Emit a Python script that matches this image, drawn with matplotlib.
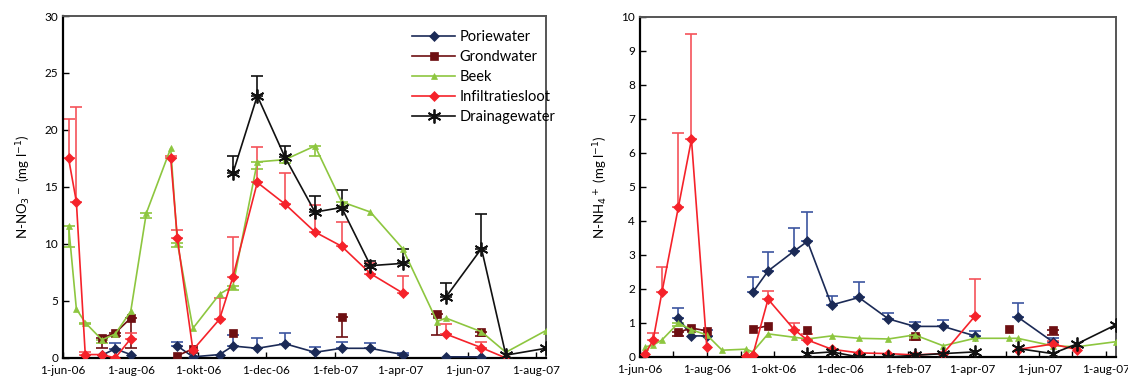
import numpy as np
import pandas as pd
import matplotlib
matplotlib.use("Agg")
import matplotlib.pyplot as plt
import matplotlib.dates as mdates
from matplotlib.ticker import FuncFormatter

plt.rcParams['font.family'] = ['Lato', 'DejaVu Sans']

nan = np.nan

# sampling dates shared by all series
dates = pd.to_datetime([
    '2006-06-06', '2006-06-13', '2006-06-21', '2006-07-06', '2006-07-18', '2006-08-01',
    '2006-08-15', '2006-09-06', '2006-09-12', '2006-09-26', '2006-10-20', '2006-11-01',
    '2006-11-23', '2006-12-18', '2007-01-14', '2007-02-07', '2007-03-05', '2007-04-03',
    '2007-05-04', '2007-05-12', '2007-06-13', '2007-07-05', '2007-08-10'])

# N-NO3 (mg/l)
pore_no3 = [nan, nan, nan, 0.25, 0.8, 0.3, nan, nan, 1.05, 0.1, 0.3, 1.05, 0.85, 1.25, 0.5, 0.85, 0.85, 0.3, nan, 0.1, 0.1, nan, nan]
pore_no3_err = [0, 0, 0, 0, 0.5, 0, 0, 0, 0.35, 0, 0, 1.0, 0.9, 0.95, 0.5, 0.55, 0.45, 0.1, 0, 0, 0, 0, 0]
grond_no3 = [nan, nan, nan, 1.75, 2.2, 3.5, nan, nan, 0.2, 0.8, nan, 2.2, nan, nan, nan, 3.6, nan, nan, 3.85, nan, 2.3, nan, nan]
grond_no3_err = [0, 0, 0, 0.9, 0.3, 2.65, 0, 0, 0, 0, 0, 0, 0, 0, 0, 1.75, 0, 0, 1.85, 0, 0.4, 0, 0]
beek_no3 = [11.6, 4.3, 3.1, 1.6, 2.1, 4.1, 12.7, 18.4, 10.1, 2.6, 5.6, 6.3, 17.2, 17.4, 18.6, 13.7, 12.8, 9.6, 3.2, 3.5, 2.3, 0.5, 2.4]
beek_no3_err = [1.85, 0, 0.1, 0.3, 0, 0, 0.4, 0, 0.35, 0, 0, 0.3, 0.6, 0.3, 0.9, 0.5, 0, 0, 0, 0, 0, 0, 0]
infil_no3 = [17.5, 13.7, 0.3, 0.3, 0.0, 1.7, nan, 17.5, 10.5, 0.7, 3.4, 7.1, 15.4, 13.5, 11.05, 9.8, 7.4, 5.7, nan, 2.1, 0.9, 0.0, nan]
infil_no3_err = [3.5, 8.3, 0.2, 0, 0, 0.5, 0, 0.2, 0.7, 0, 1.9, 3.5, 3.1, 2.7, 2.35, 2.1, 0.9, 1.5, 0, 0.9, 0.5, 0, 0]
drain_no3 = [nan] * 11 + [16.2, 23.0, 17.6, 12.8, 13.2, 8.1, 8.3, nan, 5.35, 9.6, 0.25, 0.85]
drain_no3_err = [0] * 11 + [1.5, 1.7, 1.0, 1.4, 1.5, 0.4, 1.3, 0, 1.25, 3.0, 0, 0]

# N-NH4 (mg/l)
pore_nh4 = [nan, nan, nan, 1.15, 0.62, 0.62, nan, nan, 1.9, 2.53, 3.12, 3.4, 1.53, 1.75, 1.12, 0.9, 0.9, 0.62, nan, 1.18, 0.45, nan, nan]
pore_nh4_err = [0, 0, 0, 0.3, 0, 0.18, 0, 0, 0.45, 0.57, 0.68, 0.85, 0.27, 0.45, 0.18, 0.14, 0.2, 0.15, 0, 0.42, 0.1, 0, 0]
grond_nh4 = [nan, nan, nan, 0.73, 0.85, 0.77, nan, nan, 0.82, 0.92, nan, 0.8, nan, nan, nan, 0.62, nan, nan, 0.82, nan, 0.8, nan, nan]
grond_nh4_err = [0, 0, 0, 0.1, 0, 0, 0, 0, 0, 0, 0, 0, 0, 0, 0, 0.12, 0, 0, 0, 0, 0.15, 0, 0]
beek_nh4 = [0.3, 0.35, 0.5, 1.0, 0.8, 0.65, 0.2, 0.23, 0.15, 0.68, 0.58, 0.53, 0.62, 0.55, 0.53, 0.65, 0.33, 0.55, 0.55, 0.55, 0.33, 0.3, 0.45]
beek_nh4_err = [0, 0, 0, 0.1, 0, 0, 0, 0, 0, 0, 0, 0, 0, 0, 0, 0.1, 0, 0, 0, 0, 0, 0, 0]
infil_nh4 = [0.1, 0.5, 1.9, 4.4, 6.4, 0.3, nan, 0.03, 0.05, 1.7, 0.8, 0.5, 0.23, 0.12, 0.1, 0.06, 0.1, 1.2, nan, 0.22, 0.38, 0.22, nan]
infil_nh4_err = [0, 0.2, 0.75, 2.2, 3.1, 0, 0, 0, 0, 0.25, 0.2, 0.18, 0, 0, 0, 0, 0, 1.1, 0, 0, 0.1, 0, 0]
drain_nh4 = [nan] * 11 + [0.1, 0.15, 0.0, 0.0, 0.05, 0.1, 0.15, nan, 0.25, 0.1, 0.38, 0.95]

labels = ['Poriewater', 'Grondwater', 'Beek', 'Infiltratiesloot', 'Drainagewater']
colors = ['#1b2a56', '#6e0f12', '#8dc63f', '#f5222a', '#111111']
err_colors = ['#3c55a0', '#6e0f12', '#8dc63f', '#f5535a', '#111111']
markers = ['D', 's', '^', 'D', (6, 2, 0)]
msizes = [5, 6, 5, 5, 10]
err_dir = ['up', 'down', 'down', 'up', 'up']

dutch = ['jan', 'feb', 'mrt', 'apr', 'mei', 'jun', 'jul', 'aug', 'sep', 'okt', 'nov', 'dec']


def fmt_date(x, pos):
    d = mdates.num2date(x)
    return '%d-%s-%02d' % (d.day, dutch[d.month - 1], d.year % 100)


def draw_panel(ax, series, errs, ymax, ystep, monthly_minor):
    for i, vals in enumerate(series):
        vals = np.array(vals, dtype=float)
        if errs[i] is not None:
            e = np.array(errs[i], dtype=float)
            sel = e > 0
            zero = np.zeros(sel.sum())
            yerr = [zero, e[sel]] if err_dir[i] == 'up' else [e[sel], zero]
            ax.errorbar(dates[sel], vals[sel], yerr=yerr, fmt='none', ecolor=err_colors[i],
                        elinewidth=1.2, capsize=4, capthick=1.2, zorder=2)
        mew = 1.3 if i == 4 else 0.5
        ax.plot(dates, vals, color=colors[i], marker=markers[i], markersize=msizes[i],
                markeredgewidth=mew, linewidth=1.2, label=labels[i], zorder=3)

    ax.set_xlim(pd.Timestamp('2006-06-01'), pd.Timestamp('2007-08-10'))
    ax.set_ylim(0, ymax)
    ax.set_yticks(np.arange(0, ymax + 0.01, ystep))
    ax.xaxis.set_major_locator(mdates.MonthLocator(bymonth=[2, 4, 6, 8, 10, 12]))
    ax.xaxis.set_major_formatter(FuncFormatter(fmt_date))
    if monthly_minor:
        ax.xaxis.set_minor_locator(mdates.MonthLocator())
    ax.tick_params(direction='in', length=4, width=1, labelsize=8.5)
    ax.tick_params(axis='x', which='minor', direction='in', length=4, width=1)
    ax.tick_params(axis='x', pad=5)
    for s in ['left', 'bottom']:
        ax.spines[s].set_color('black')
        ax.spines[s].set_linewidth(1.6)
    for s in ['top', 'right']:
        ax.spines[s].set_color('#555555')
        ax.spines[s].set_linewidth(1.4)


fig = plt.figure(figsize=(11.28, 3.81), dpi=100)
ax1 = fig.add_axes([0.0559, 0.0604, 0.428, 0.8976])
ax2 = fig.add_axes([0.5674, 0.0630, 0.422, 0.8924])

draw_panel(ax1, [pore_no3, grond_no3, beek_no3, infil_no3, drain_no3],
           [pore_no3_err, grond_no3_err, beek_no3_err, infil_no3_err, drain_no3_err], 30, 5, False)
draw_panel(ax2, [pore_nh4, grond_nh4, beek_nh4, infil_nh4, drain_nh4],
           [pore_nh4_err, grond_nh4_err, beek_nh4_err, infil_nh4_err, None], 10, 1, True)

ax1.set_ylabel('N-NO$_3$$^-$ (mg l$^{-1}$)', fontsize=9.5, labelpad=8)
ax2.set_ylabel('N-NH$_4$$^+$ (mg l$^{-1}$)', fontsize=9.5, labelpad=8)

ax1.legend(loc='upper left', bbox_to_anchor=(0.71, 0.975), frameon=False, fontsize=10.5,
           handlelength=3.0, labelspacing=0.4, handletextpad=0.3, borderaxespad=0)

fig.savefig('out.png', dpi=100)
